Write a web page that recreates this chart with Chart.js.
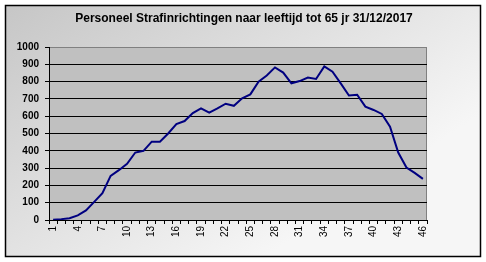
<!DOCTYPE html>
<html>
<head>
<meta charset="utf-8">
<script src="https://cdn.jsdelivr.net/npm/chart.js@4"></script>
<style>
  html, body { margin: 0; padding: 0; background: #fff; }
  #wrap { width: 486px; height: 262px; }
</style>
</head>
<body>
<div id="wrap"><canvas id="chart" width="486" height="262"></canvas></div>
<script>
// leeftijdscategorieen (1..46)
const categories = [];
for (let i = 1; i <= 46; i++) categories.push(String(i));

const personeel = [
  2, 5, 10, 27, 55, 105, 155, 255, 288, 325,
  390, 400, 453, 453, 500, 555, 572, 618, 645, 620,
  645, 672, 660, 703, 726, 800, 835, 882, 852, 790,
  803, 823, 815, 888, 857, 790, 720, 724, 655, 636,
  613, 540, 390, 303, 272, 238
];

const yTicks = [0, 100, 200, 300, 400, 500, 600, 700, 800, 900, 1000];
const titel = 'Personeel Strafinrichtingen naar leeftijd tot 65 jr 31/12/2017';

const FONT = '"Liberation Sans", Arial, sans-serif';

// achtergrond, kader en titel
const achtergrond = {
  id: 'achtergrond',
  beforeDraw(chart) {
    const ctx = chart.ctx;
    const w = chart.width, h = chart.height;
    ctx.save();
    ctx.fillStyle = '#fff';
    ctx.fillRect(0, 0, w, h);
    const g = ctx.createLinearGradient(5, 5, 200, 300);
    g.addColorStop(0, '#c6c6c6');
    g.addColorStop(1, '#f6f6f6');
    ctx.fillStyle = g;
    ctx.fillRect(5, 5, 475, 251);
    ctx.strokeStyle = '#000';
    ctx.lineWidth = 1.5;
    ctx.strokeRect(5.5, 5.5, 475, 251);
    // plotgebied
    const a = chart.chartArea;
    ctx.fillStyle = '#c0c0c0';
    ctx.fillRect(a.left, a.top, a.right - a.left, a.bottom - a.top);
    ctx.strokeStyle = '#808080';
    ctx.lineWidth = 1;
    ctx.strokeRect(a.left + 0.5, a.top + 0.5, a.right - a.left - 1, a.bottom - a.top);
    // titel
    ctx.fillStyle = '#000';
    ctx.font = 'bold 12px ' + FONT;
    ctx.textAlign = 'center';
    ctx.textBaseline = 'middle';
    ctx.fillText(titel, 244, 19);
    ctx.restore();
  }
};

new Chart(document.getElementById('chart'), {
  type: 'line',
  data: {
    labels: categories,
    datasets: [{
      data: personeel,
      borderColor: '#000080',
      borderWidth: 2,
      pointRadius: 0,
      tension: 0,
      fill: false
    }]
  },
  options: {
    responsive: false,
    animation: false,
    layout: { padding: { left: 0, right: 59, top: 47, bottom: 0 } },
    plugins: {
      legend: { display: false },
      tooltip: { enabled: false },
      title: { display: false }
    },
    scales: {
      x: {
        offset: true,
        afterFit(scale) { scale.height = 42; },
        grid: {
          offset: true,
          drawOnChartArea: false,
          tickLength: 4,
          tickColor: '#000'
        },
        border: { color: '#000', width: 1 },
        ticks: {
          autoSkip: false,
          maxRotation: 90,
          minRotation: 90,
          padding: 2,
          color: '#000',
          font: { family: FONT, size: 10 },
          callback(val, idx) { return idx % 3 === 0 ? categories[idx] : ''; }
        }
      },
      y: {
        min: 0,
        max: 1000,
        afterFit(scale) { scale.width = 49; },
        afterBuildTicks(scale) { scale.ticks = yTicks.map(v => ({ value: v })); },
        grid: {
          color: ctx => (ctx.tick && ctx.tick.value === 1000) ? '#808080' : '#000',
          tickColor: '#000',
          tickLength: 4,
          lineWidth: 1
        },
        border: { color: '#000', width: 1 },
        ticks: {
          padding: 6,
          color: '#000',
          font: { family: FONT, size: 10, weight: 'bold' },
          callback: v => String(v)
        }
      }
    }
  },
  plugins: [achtergrond]
});
</script>
</body>
</html>
